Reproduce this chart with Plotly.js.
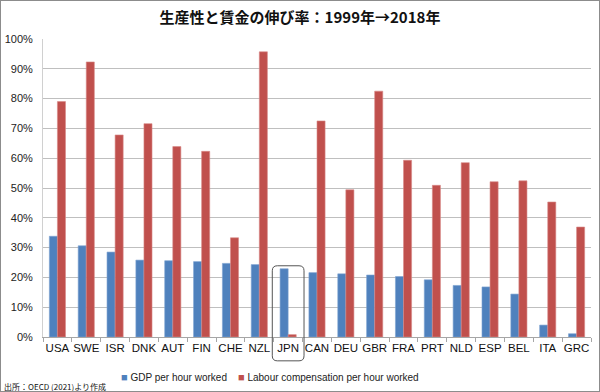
<!DOCTYPE html>
<html><head><meta charset="utf-8">
<script src="https://cdn.plot.ly/plotly-3.0.1.min.js"></script>
<style>
html,body{margin:0;padding:0;background:#fff;}
#wrap{position:relative;width:600px;height:392px;}
#chart{width:600px;height:392px;}
#frame{position:absolute;left:0;top:0;width:600px;height:392px;box-sizing:border-box;border:1px solid #8c8c8c;pointer-events:none;}
</style></head>
<body><div id="wrap"><div id="chart"></div><div id="frame"></div></div>
<script>
const countries = ["USA","SWE","ISR","DNK","AUT","FIN","CHE","NZL","JPN","CAN","DEU","GBR","FRA","PRT","NLD","ESP","BEL","ITA","GRC"];
const gdpPerHour = [0.338,0.306,0.285,0.258,0.256,0.253,0.247,0.243,0.229,0.216,0.212,0.208,0.203,0.192,0.173,0.168,0.144,0.040,0.011];
const labourCompPerHour = [0.790,0.923,0.678,0.716,0.639,0.623,0.333,0.957,0.008,0.725,0.494,0.825,0.593,0.509,0.585,0.521,0.524,0.453,0.369];
const seriesNames = ["GDP per hour worked","Labour compensation per hour worked"];
const seriesColors = ["#4F81BD","#C0504D"];
const titleText = "生産性と賃金の伸び率：1999年→2018年";
const sourceText = "出所：OECD (2021)より作成";
const highlight = "JPN";

const font = "'Liberation Sans', Arial, sans-serif";
const cjk = "'Noto Sans CJK JP', sans-serif";
const n = countries.length;
const hi = countries.indexOf(highlight);
const xc = (hi + 0.5) / n, hw = 0.55 / n;
const yTop = gdpPerHour[hi] + 0.01, yBot = -0.08;
const rx = 5/548, ry = 5/298;
const x0 = xc - hw, x1 = xc + hw;
const path = `M ${x0+rx} ${yTop} L ${x1-rx} ${yTop} Q ${x1} ${yTop} ${x1} ${yTop-ry} L ${x1} ${yBot+ry} Q ${x1} ${yBot} ${x1-rx} ${yBot} L ${x0+rx} ${yBot} Q ${x0} ${yBot} ${x0} ${yBot+ry} L ${x0} ${yTop-ry} Q ${x0} ${yTop} ${x0+rx} ${yTop} Z`;

const traces = [
  {type:"bar", name:seriesNames[0], x:countries, y:gdpPerHour,
   marker:{color:seriesColors[0], line:{color:"#7EA2D2", width:0.6}}},
  {type:"bar", name:seriesNames[1], x:countries, y:labourCompPerHour,
   marker:{color:seriesColors[1], line:{color:"#D98A88", width:0.6}}}
];
const legendText = (i) => `<span style="color:${seriesColors[i]};font-size:11px">■</span> ${seriesNames[i]}`;
const layout = {
  width:600, height:392,
  margin:{l:43, r:9, t:39, b:55, autoexpand:false},
  paper_bgcolor:"#fff", plot_bgcolor:"#fff",
  font:{family:font, size:11, color:"#222"},
  title:{text:titleText, x:0.5, xanchor:"center", y:0.955, yanchor:"middle",
         font:{family:cjk, size:15, color:"#111", weight:"bold"}},
  barmode:"group", bargap:0.44, bargroupgap:0,
  showlegend:false,
  xaxis:{type:"category", showgrid:false, showline:true, linecolor:"#a6a6a6", linewidth:1,
         ticks:"outside", tickson:"boundaries", ticklen:4, tickcolor:"#a6a6a6", tickangle:0,
         tickfont:{size:11.5, color:"#111"}, range:[-0.5, n-0.5], fixedrange:true, automargin:false},
  yaxis:{range:[0,1], dtick:0.1, tickformat:".0%", showgrid:true, gridcolor:"#BFBFBF", gridwidth:1,
         showline:true, linecolor:"#d0d0d0", zeroline:false, ticks:"", ticklabelstandoff:7,
         tickfont:{size:11, color:"#222"}, fixedrange:true, automargin:false},
  shapes:[{type:"path", xref:"paper", yref:"paper", path:path,
           line:{color:"#555", width:1}, fillcolor:"rgba(0,0,0,0)"}],
  annotations:[
    {text:legendText(0), xref:"paper", yref:"paper", x:0.138, xanchor:"left",
     y:-0.133, yanchor:"middle", showarrow:false, font:{family:font, size:10, color:"#222"}},
    {text:legendText(1), xref:"paper", yref:"paper", x:0.352, xanchor:"left",
     y:-0.133, yanchor:"middle", showarrow:false, font:{family:font, size:10, color:"#222"}},
    {text:sourceText, xref:"paper", yref:"paper", x:-0.075, xanchor:"left",
     y:-0.165, yanchor:"middle", showarrow:false,
     font:{family:cjk, size:8, color:"#111"}}]
};
Plotly.newPlot("chart", traces, layout, {displayModeBar:false, staticPlot:true});
</script></body></html>
